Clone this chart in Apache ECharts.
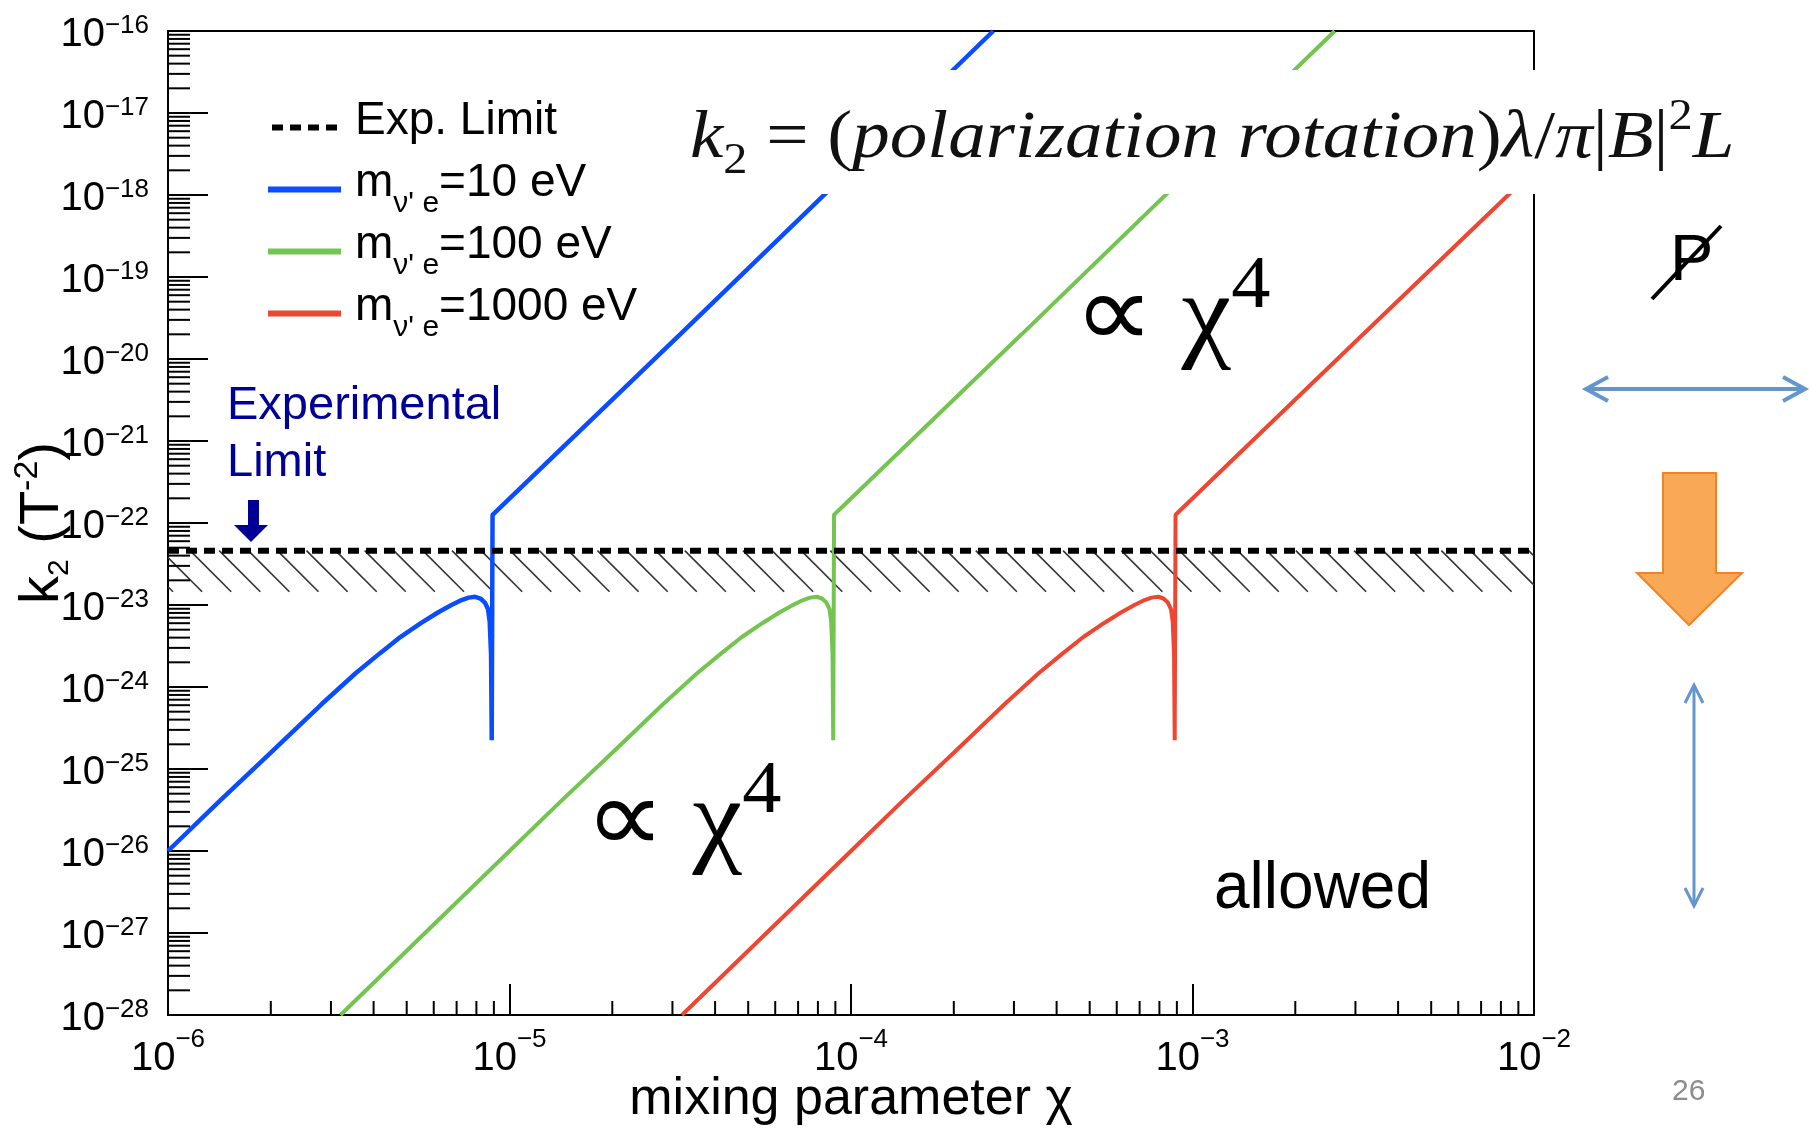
<!DOCTYPE html>
<html>
<head>
<meta charset="UTF-8">
<title>k2 vs mixing parameter</title>
<script src="https://cdn.jsdelivr.net/npm/echarts@6/dist/echarts.min.js"></script>
<style>
  html, body { margin: 0; padding: 0; background: #fff; }
  #chart { width: 1811px; height: 1130px; }
</style>
</head>
<body>
<div id="chart"></div>
<script>
  // axis ranges (real values, plotted on log10 scale)
  const xMin = 1e-6, xMax = 1e-2;
  const yMin = 1e-28, yMax = 1e-16;
  const expLimit = 4.6e-23;   // dashed experimental limit
  const hatchLow = 1.45e-23;  // lower edge of the hatching
  const minorMultipliers = [2, 3, 4, 5, 6, 7, 8, 9];

  const seriesNames = ['Exp. Limit', 'm10', 'm100', 'm1000'];

  const expLimitLine = [[1e-6, 4.6e-23], [1e-2, 4.6e-23]];

  // m = 10 eV
  const blue10 = [
    [1.0e-6, 1.0e-26], [1.41e-6, 4.0e-26], [2.0e-6, 1.58e-25], [2.82e-6, 6.2e-25],
    [3.55e-6, 1.48e-24], [4.17e-6, 2.57e-24], [4.79e-6, 4.07e-24], [5.5e-6, 6.0e-24],
    [6.17e-6, 8.1e-24], [6.76e-6, 1.0e-23], [7.24e-6, 1.15e-23], [7.59e-6, 1.23e-23],
    [7.94e-6, 1.26e-23], [8.22e-6, 1.2e-23], [8.47e-6, 1.07e-23], [8.65e-6, 8.9e-24],
    [8.75e-6, 6.3e-24], [8.83e-6, 2.5e-24], [8.87e-6, 2.25e-25], [8.92e-6, 1.26e-22],
    [3.16e-5, 2.0e-20], [2.61e-4, 1.0e-16]
  ];
  // m = 100 eV
  const green100 = [
    [3.2e-6, 1.0e-28],
    [1.0e-5, 1.0e-26], [1.41e-5, 4.0e-26], [2.0e-5, 1.58e-25], [2.82e-5, 6.2e-25],
    [3.55e-5, 1.48e-24], [4.17e-5, 2.57e-24], [4.79e-5, 4.07e-24], [5.5e-5, 6.0e-24],
    [6.17e-5, 8.1e-24], [6.76e-5, 1.0e-23], [7.24e-5, 1.15e-23], [7.59e-5, 1.23e-23],
    [7.94e-5, 1.26e-23], [8.22e-5, 1.2e-23], [8.47e-5, 1.07e-23], [8.65e-5, 8.9e-24],
    [8.75e-5, 6.3e-24], [8.83e-5, 2.5e-24], [8.87e-5, 2.25e-25], [8.92e-5, 1.26e-22],
    [3.16e-4, 2.0e-20], [2.61e-3, 1.0e-16]
  ];
  // m = 1000 eV
  const red1000 = [
    [3.2e-5, 1.0e-28],
    [1.0e-4, 1.0e-26], [1.41e-4, 4.0e-26], [2.0e-4, 1.58e-25], [2.82e-4, 6.2e-25],
    [3.55e-4, 1.48e-24], [4.17e-4, 2.57e-24], [4.79e-4, 4.07e-24], [5.5e-4, 6.0e-24],
    [6.17e-4, 8.1e-24], [6.76e-4, 1.0e-23], [7.24e-4, 1.15e-23], [7.59e-4, 1.23e-23],
    [7.94e-4, 1.26e-23], [8.22e-4, 1.2e-23], [8.47e-4, 1.07e-23], [8.65e-4, 8.9e-24],
    [8.75e-4, 6.3e-24], [8.83e-4, 2.5e-24], [8.87e-4, 2.25e-25], [8.92e-4, 1.26e-22],
    [3.16e-3, 2.0e-20], [1.0e-2, 2.0e-18]
  ];

  const legendText = {
    'Exp. Limit': '{m|Exp. Limit}{sub| }',
    'm10': '{m|m}{sub|ν\' e}{m|=10 eV}',
    'm100': '{m|m}{sub|ν\' e}{m|=100 eV}',
    'm1000': '{m|m}{sub|ν\' e}{m|=1000 eV}'
  };

  const SANS = 'Liberation Sans, Arial, sans-serif';
  const SERIF = 'Liberation Serif, Times New Roman, serif';
  const lg = Math.log10;
  const toLog = pts => pts.map(p => [lg(p[0]), lg(p[1])]);

  // minor tick positions (log space)
  const yMinorTicks = [];
  for (let e = lg(yMin); e < lg(yMax); e++) {
    minorMultipliers.forEach(k => yMinorTicks.push([lg(xMin), e + lg(k)]));
  }
  const xMinorTicks = [];
  for (let e = lg(xMin); e < lg(xMax); e++) {
    minorMultipliers.forEach(k => xMinorTicks.push([e + lg(k), lg(yMin)]));
  }

  function minorTickSeries(ticks, dir, len) {
    return {
      type: 'custom', silent: true, z: 5,
      data: ticks,
      renderItem: (params, api) => {
        const p = api.coord([api.value(0), api.value(1)]);
        const shape = dir === 'y'
          ? { x1: p[0], y1: p[1], x2: p[0] + len, y2: p[1] }
          : { x1: p[0], y1: p[1], x2: p[0], y2: p[1] - len };
        return { type: 'line', shape: shape, style: { stroke: '#000', lineWidth: 2 } };
      }
    };
  }

  const lineSeries = (name, data, color, width) => ({
    name: name, type: 'line', data: toLog(data), symbol: 'none', z: 3,
    lineStyle: { color: color, width: width }, itemStyle: { color: color }
  });

  const yTickRich = {
    b: { fontFamily: SANS, fontSize: 40, lineHeight: 44, color: '#000' },
    s: { fontFamily: SANS, fontSize: 26, verticalAlign: 'top', color: '#000' }
  };
  const xTickRich = {
    b: { fontFamily: SANS, fontSize: 40, lineHeight: 64, color: '#000' },
    s: { fontFamily: SANS, fontSize: 26, verticalAlign: 'top', color: '#000' }
  };
  const expLabel = v => '{b|10}{s|−' + Math.abs(Math.round(v)) + '}';

  const chiRich = {
    a: { fontFamily: SERIF, fontSize: 100, lineHeight: 130, fill: '#000' },
    s: { fontFamily: SERIF, fontSize: 70, lineHeight: 58, verticalAlign: 'top', fill: '#000' }
  };

  const chart = echarts.init(document.getElementById('chart'));
  chart.setOption({
    animation: false,
    grid: {
      left: 168, right: 277, top: 31, bottom: 115, show: true,
      borderColor: '#000', borderWidth: 2, containLabel: false, outerBoundsMode: 'none'
    },
    legend: {
      orient: 'vertical', left: 268, top: 98, padding: 0,
      itemWidth: 73, itemHeight: 6, itemGap: 3,
      selectedMode: false,
      data: [
        { name: 'Exp. Limit', icon: 'path://M0,0h11v6h-11zM18,0h11v6h-11zM36,0h11v6h-11zM54,0h11v6h-11z' },
        { name: 'm10', icon: 'rect' },
        { name: 'm100', icon: 'rect' },
        { name: 'm1000', icon: 'rect' }
      ],
      formatter: name => legendText[name],
      textStyle: {
        padding: [0, 0, 0, 9],
        rich: {
          m: { fontFamily: SANS, fontSize: 46, lineHeight: 48, verticalAlign: 'top', color: '#000' },
          sub: { fontFamily: SANS, fontSize: 30, padding: [29, 0, 0, 0], verticalAlign: 'top', color: '#000' }
        }
      }
    },
    xAxis: {
      type: 'value', min: lg(xMin), max: lg(xMax), interval: 1,
      axisLine: { onZero: false, lineStyle: { color: '#000', width: 2 } },
      axisTick: { inside: true, length: 31, lineStyle: { color: '#000', width: 2 } },
      splitLine: { show: false },
      axisLabel: { margin: 12, formatter: expLabel, rich: xTickRich },
      name: 'mixing parameter χ', nameLocation: 'middle', nameGap: 59, nameMoveOverlap: false,
      nameTextStyle: { fontFamily: SANS, fontSize: 52, color: '#000' }
    },
    yAxis: {
      type: 'value', min: lg(yMin), max: lg(yMax), interval: 1,
      axisLine: { onZero: false, lineStyle: { color: '#000', width: 2 } },
      axisTick: { inside: true, length: 40, lineStyle: { color: '#000', width: 2 } },
      splitLine: { show: false },
      axisLabel: { margin: 19, padding: [8, 0, 0, 0], formatter: expLabel, rich: yTickRich },
      name: '{k|k}{sb|2}{k| (T}{sp|-2}{k|)}', nameLocation: 'middle', nameGap: 93, nameRotate: 90,
      nameMoveOverlap: false,
      nameTextStyle: {
        rich: {
          k: { fontFamily: SANS, fontSize: 56, lineHeight: 64, color: '#000' },
          sb: { fontFamily: SANS, fontSize: 30, lineHeight: 9, verticalAlign: 'bottom', color: '#000' },
          sp: { fontFamily: SANS, fontSize: 34, lineHeight: 34, verticalAlign: 'top', color: '#000' }
        }
      }
    },
    series: [
      {
        name: 'Exp. Limit', type: 'line', data: toLog(expLimitLine), symbol: 'none', z: 4,
        lineStyle: { color: '#000', width: 6, type: [11, 7] }, itemStyle: { color: '#000' }
      },
      lineSeries('m10', blue10, '#0A4DFF', 4.5),
      lineSeries('m100', green100, '#73C550', 4),
      lineSeries('m1000', red1000, '#EE4630', 4),
      {
        // hatching below the experimental limit
        type: 'custom', silent: true, z: 1,
        data: [[lg(xMin), lg(expLimit), lg(hatchLow)]],
        renderItem: (params, api) => {
          const cs = params.coordSys;
          const yTop = api.coord([api.value(0), api.value(1)])[1];
          const yBot = api.coord([api.value(0), api.value(2)])[1];
          const h = yBot - yTop, right = cs.x + cs.width;
          const lines = [];
          for (let bx = cs.x + 5; bx - h < right; bx += 29.1) {
            let x1 = bx - h, y1 = yTop, x2 = bx, y2 = yBot;
            if (x1 < cs.x) { y1 += cs.x - x1; x1 = cs.x; }
            if (x2 > right) { y2 -= x2 - right; x2 = right; }
            if (x2 <= x1) continue;
            lines.push({ type: 'line', shape: { x1, y1, x2, y2 }, style: { stroke: '#333', lineWidth: 1.6 } });
          }
          return { type: 'group', children: lines };
        }
      },
      minorTickSeries(yMinorTicks, 'y', 22),
      minorTickSeries(xMinorTicks, 'x', 14)
    ],
    graphic: [
      // formula banner
      { type: 'rect', z: 50, shape: { x: 680, y: 70, width: 1131, height: 124 }, style: { fill: '#fff' } },
      {
        type: 'text', z: 51, x: 690, y: 95, scaleX: 1.21, scaleY: 1.1,
        style: {
          text: '{i|k}{sb|2}{r| = (}{i|polarization rotation}{r|)}{i|λ}{r|/}{i|π}{r||}{i|B}{r||}{sp|2}{i|L}',
          rich: {
            i: { fontFamily: SERIF, fontStyle: 'italic', fontSize: 62, lineHeight: 80, fill: '#111' },
            r: { fontFamily: SERIF, fontSize: 62, lineHeight: 80, fill: '#111' },
            sb: { fontFamily: SERIF, fontSize: 40, lineHeight: 37, verticalAlign: 'bottom', fill: '#111' },
            sp: { fontFamily: SERIF, fontSize: 40, lineHeight: 49, verticalAlign: 'top', fill: '#111' }
          }
        }
      },
      // proportional to chi^4 labels
      { type: 'text', z: 51, x: 1074, y: 251, scaleX: 1.12, scaleY: 1.05, style: { text: '{a|∝ χ}{s|4}', rich: chiRich } },
      { type: 'text', z: 51, x: 585, y: 756, scaleX: 1.12, scaleY: 1.05, style: { text: '{a|∝ χ}{s|4}', rich: chiRich } },
      { type: 'text', z: 51, x: 1214, y: 856, scaleY: 1.05, style: { text: 'allowed', fontFamily: SANS, fontSize: 64, fill: '#000' } },
      {
        type: 'text', z: 51, x: 227, y: 378,
        style: { text: 'Experimental\nLimit', fontFamily: SANS, fontSize: 47, lineHeight: 57, fill: '#000096' }
      },
      {
        type: 'polygon', z: 51,
        shape: { points: [[248, 500], [259, 500], [259, 525], [268, 525], [251, 542], [234, 525], [248, 525]] },
        style: { fill: '#000096' }
      },
      // right-hand side sketch
      { type: 'text', z: 51, x: 1670, y: 230, style: { text: 'P', fontFamily: SANS, fontSize: 65, fill: '#000' } },
      { type: 'line', z: 52, shape: { x1: 1652, y1: 299, x2: 1721, y2: 226 }, style: { stroke: '#000', lineWidth: 4 } },
      { type: 'line', z: 51, shape: { x1: 1588, y1: 389, x2: 1803, y2: 389 }, style: { stroke: '#6496CD', lineWidth: 4 } },
      { type: 'polyline', z: 51, shape: { points: [[1783, 377], [1805, 389], [1783, 401]] }, style: { stroke: '#6496CD', lineWidth: 4, fill: null } },
      { type: 'polyline', z: 51, shape: { points: [[1608, 377], [1586, 389], [1608, 401]] }, style: { stroke: '#6496CD', lineWidth: 4, fill: null } },
      {
        type: 'polygon', z: 51,
        shape: { points: [[1663, 473], [1716, 473], [1716, 573], [1742, 573], [1689, 625], [1637, 573], [1663, 573]] },
        style: { fill: '#F9A856', stroke: '#F58220', lineWidth: 2 }
      },
      { type: 'line', z: 51, shape: { x1: 1694, y1: 686, x2: 1694, y2: 905 }, style: { stroke: '#6496CD', lineWidth: 3 } },
      { type: 'polyline', z: 51, shape: { points: [[1685, 703], [1694, 685], [1703, 703]] }, style: { stroke: '#6496CD', lineWidth: 3, fill: null } },
      { type: 'polyline', z: 51, shape: { points: [[1685, 888], [1694, 906], [1703, 888]] }, style: { stroke: '#6496CD', lineWidth: 3, fill: null } },
      { type: 'text', z: 51, x: 1672, y: 1077, style: { text: '26', fontFamily: SANS, fontSize: 30, fill: '#8c8c8c' } }
    ]
  });
</script>
</body>
</html>
